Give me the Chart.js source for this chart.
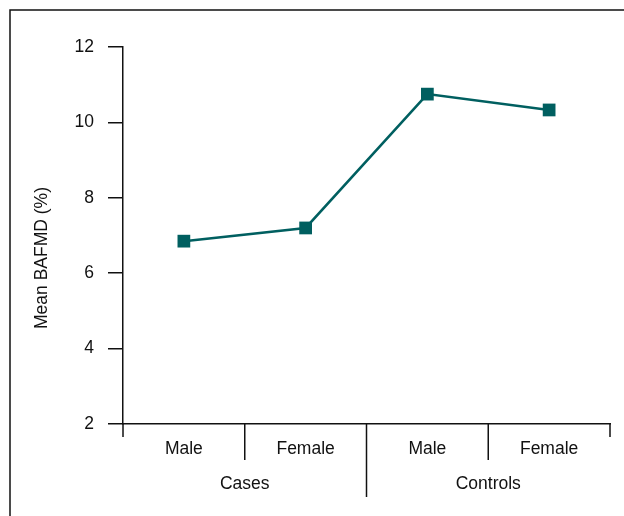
<!DOCTYPE html>
<html>
<head>
<meta charset="utf-8">
<title>Mean BAFMD</title>
<script src="https://cdn.jsdelivr.net/npm/chart.js@4.4.0/dist/chart.umd.min.js"></script>
<style>
  html, body { margin: 0; padding: 0; background: #fff; }
  #wrap { position: relative; width: 624px; height: 516px; }
</style>
</head>
<body>
<div id="wrap"><canvas id="bafmd" width="624" height="516"></canvas></div>
<script>
    "use strict";

    // Data
    const groups = ["Cases", "Controls"];
    const sexes = ["Male", "Female"];
    const meanBafmd = [6.85, 7.2, 10.75, 10.33];
    const yMin = 2, yMax = 12, yStep = 2;
    const yTitle = "Mean BAFMD (%)";

    const ink = "#111111";
    const teal = "#005f60";
    const fontFamily = "'Liberation Sans', Arial, sans-serif";
    const fontSize = 17.5;

    // one category per group/sex pair
    const labels = [];
    groups.forEach(() => sexes.forEach(s => labels.push(s)));

    // Grouped x axis: separators under the axis, group names, y title, outer frame
    const groupAxis = {
        id: "groupAxis",
        afterDraw(chart) {
            const ctx = chart.ctx;
            const area = chart.chartArea;
            const x = chart.scales.x;
            const n = labels.length;
            const base = area.bottom;

            ctx.save();
            ctx.strokeStyle = ink;
            ctx.lineWidth = 1.5;
            for (let i = 0; i <= n; i++) {
                let px, len = 13;
                if (i === 0) px = area.left;
                else if (i === n) px = area.right;
                else {
                    px = (x.getPixelForValue(i - 1) + x.getPixelForValue(i)) / 2;
                    len = (i % sexes.length === 0) ? 73 : 36;
                }
                ctx.beginPath();
                ctx.moveTo(px, base);
                ctx.lineTo(px, base + len);
                ctx.stroke();
            }

            ctx.fillStyle = ink;
            ctx.font = fontSize + "px " + fontFamily;
            ctx.textAlign = "center";
            ctx.textBaseline = "middle";
            groups.forEach((g, gi) => {
                const first = gi * sexes.length;
                const last = first + sexes.length - 1;
                const cx = (x.getPixelForValue(first) + x.getPixelForValue(last)) / 2;
                ctx.fillText(g, cx, base + 60);
            });

            // y title, centred on the whole frame rather than the axis
            ctx.save();
            ctx.translate(42, chart.height / 2);
            ctx.rotate(-Math.PI / 2);
            ctx.fillText(yTitle, 0, 0);
            ctx.restore();

            // frame
            ctx.beginPath();
            ctx.moveTo(10, chart.height);
            ctx.lineTo(10, 10);
            ctx.lineTo(chart.width, 10);
            ctx.stroke();
            ctx.restore();
        }
    };

    var ctx1 = document.getElementById("bafmd").getContext("2d");
    var chart1 = new Chart(ctx1, {
        type: "line",
        data: {
            labels: labels,
            datasets: [{
                label: yTitle,
                data: meanBafmd,
                borderColor: teal,
                backgroundColor: teal,
                borderWidth: 2.5,
                pointStyle: "rect",
                pointRadius: 9,
                pointHoverRadius: 9,
                pointBorderWidth: 0,
                tension: 0
            }]
        },
        options: {
            responsive: false,
            animation: false,
            events: [],
            layout: { padding: { top: 47, right: 14, bottom: 0, left: 0 } },
            plugins: {
                legend: { display: false },
                tooltip: { enabled: false }
            },
            scales: {
                x: {
                    offset: true,
                    grid: { display: false },
                    border: { display: true, color: ink, width: 1.5 },
                    ticks: {
                        color: ink,
                        padding: 7,
                        maxRotation: 0,
                        font: { family: fontFamily, size: fontSize }
                    },
                    afterFit(scale) { scale.height = 92; }
                },
                y: {
                    min: yMin,
                    max: yMax,
                    grid: {
                        drawOnChartArea: false,
                        tickLength: 15,
                        color: ink,
                        lineWidth: 1.5
                    },
                    border: { display: true, color: ink, width: 1.5 },
                    ticks: {
                        stepSize: yStep,
                        color: ink,
                        padding: 14,
                        font: { family: fontFamily, size: fontSize }
                    },
                    afterFit(scale) { scale.width = 123; }
                }
            }
        },
        plugins: [groupAxis]
    });
</script>
</body>
</html>
